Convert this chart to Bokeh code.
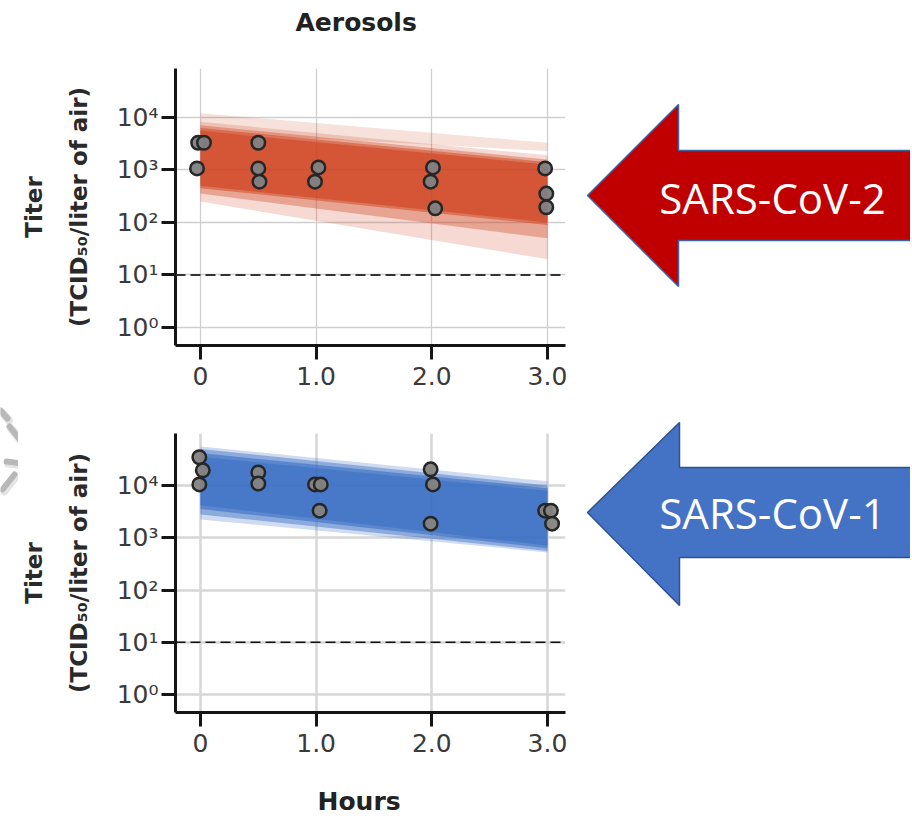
from bokeh.plotting import figure
from bokeh.models import Range1d, FixedTicker, Span, Title
from bokeh.layouts import row, column
from bokeh.embed import file_html
from bokeh.resources import INLINE
from bokeh.core.properties import value

# ---------------- data ----------------
hours_ticks = [0, 1, 2, 3]
hours_tick_labels = ["0", "1.0", "2.0", "3.0"]
titer_ticks = [1, 10, 100, 1000, 10000]
titer_tick_labels = ["10⁰", "10¹", "10²", "10³", "10⁴"]
detection_limit = 10

# SARS-CoV-2 measured titers (TCID50 / liter of air)
cov2_hours = [-0.02, 0.03, -0.03, 0.50, 0.50, 0.51, 1.02, 0.99, 2.01, 1.99, 2.03, 2.98, 2.99, 2.99]
cov2_titer = [3300, 3300, 1070, 3300, 1070, 600, 1120, 600, 1120, 600, 186, 1070, 355, 195]

# SARS-CoV-1 measured titers
cov1_hours = [-0.01, 0.02, -0.01, 0.50, 0.50, 0.99, 1.04, 1.03, 1.99, 2.01, 1.99, 2.98, 3.03, 3.04]
cov1_titer = [34700, 19500, 10500, 17800, 10900, 10500, 10500, 3300, 20400, 10500, 1860, 3300, 3300, 1860]

# fitted decay bands (value at 0 h and at 3 h)
band_hours = [0, 3]
cov2_upper_0 = [12000, 8300, 7100, 6300, 5600]
cov2_upper_3 = [3300, 1900, 1580, 1410, 1260]
cov2_lower_0 = [5200, 250, 355, 450, 500]
cov2_lower_3 = [2300, 20, 50, 90, 100]
cov2_alpha = [0.16, 0.2, 0.35, 0.5, 0.6]

cov1_upper_0 = [56000, 50000, 41700, 35500]
cov1_upper_3 = [12000, 10000, 8900, 7900]
cov1_lower_0 = [2240, 2800, 3550, 4200]
cov1_lower_3 = [525, 560, 630, 710]
cov1_alpha = [0.25, 0.45, 0.6, 0.6]

# decorative arrows (page pixel coordinates)
red_arrow_x = [587, 678, 678, 920, 920, 678, 678]
red_arrow_y = [195, 104, 150, 150, 240, 240, 286]
blue_arrow_x = [587, 679, 679, 920, 920, 679, 679]
blue_arrow_y = [512, 422, 467, 467, 557, 557, 605]
arrow_labels = ["SARS-CoV-2", "SARS-CoV-1"]
arrow_label_x = [772, 772]
arrow_label_y = [197, 512]

# decorative rays at far left (page pixel coordinates)
ray_x0 = [9, 6, 14, 0]
ray_y0 = [426, 461, 474, 410]
ray_x1 = [21, 22, 2, 7]
ray_y1 = [441, 463, 489, 418]

TICK_FONT = "DejaVu Sans"
LABEL_FONT = "DejaVu Sans"


def make_panel(height, y_lo, y_hi, border_top, border_bottom, grid_w, grid_col,
               dash_col, dash_w):
    p = figure(width=562, height=height,
               x_range=Range1d(-0.216, 3.156), y_range=Range1d(y_lo, y_hi),
               y_axis_type="log", output_backend="svg", toolbar_location=None,
               min_border_left=157, min_border_right=15,
               min_border_top=border_top, min_border_bottom=border_bottom)
    p.outline_line_color = None
    p.background_fill_color = "white"
    p.border_fill_color = "white"

    p.xaxis.ticker = FixedTicker(ticks=hours_ticks)
    p.xaxis.major_label_overrides = dict(zip(hours_ticks, hours_tick_labels))
    p.yaxis.ticker = FixedTicker(ticks=titer_ticks)
    p.yaxis.major_label_overrides = dict(zip(titer_ticks, titer_tick_labels))

    for ax in (p.xaxis, p.yaxis):
        ax.axis_line_width = 3
        ax.axis_line_color = "#151515"
        ax.major_tick_line_width = 3
        ax.major_tick_line_color = "#151515"
        ax.major_tick_out = 14
        ax.major_tick_in = 0
        ax.minor_tick_line_color = None
        ax.major_label_text_font = TICK_FONT
        ax.major_label_text_font_size = "25px"
        ax.major_label_text_color = "#3a3a3a"
    p.xaxis.major_label_standoff = 7
    p.yaxis.major_label_standoff = 3

    p.yaxis.axis_label = "Titer\n(TCID₅₀/liter of air)"
    p.yaxis.axis_label_text_font = LABEL_FONT
    p.yaxis.axis_label_text_font_style = "bold"
    p.yaxis.axis_label_text_font_size = "23px"
    p.yaxis.axis_label_text_color = "#2a2a2a"
    p.yaxis.axis_label_text_line_height = 1.7
    p.yaxis.axis_label_standoff = 22

    p.xgrid.grid_line_color = grid_col
    p.ygrid.grid_line_color = grid_col
    p.xgrid.grid_line_width = grid_w
    p.ygrid.grid_line_width = grid_w

    p.add_layout(Span(location=detection_limit, dimension="width",
                      line_color=dash_col, line_dash="10 5", line_width=dash_w))
    return p


# ---------------- top: SARS-CoV-2 ----------------
top = make_panel(400, 10 ** -0.343, 10 ** 4.933, 68, 55, 1.3, "#cfcfcf", "#333333", 2)
for u0, u3, l0, l3, a in zip(cov2_upper_0, cov2_upper_3, cov2_lower_0, cov2_lower_3, cov2_alpha):
    top.varea(x=band_hours, y1=[l0, l3], y2=[u0, u3], fill_color="#cf4320", fill_alpha=a)
top.scatter(cov2_hours, cov2_titer, size=13.5, fill_color="#7f8183", fill_alpha=0.95,
            line_color="#262626", line_width=2.5)
top.title.text = "Aerosols\n"
top.title.align = "left"
top.title.offset = 120
top.title.text_font = LABEL_FONT
top.title.text_font_size = "25px"
top.title.text_font_style = "bold"
top.title.text_color = "#222222"
top.title.standoff = 6

# ---------------- bottom: SARS-CoV-1 ----------------
bottom = make_panel(418, 10 ** -0.344, 10 ** 4.995, 33, 106, 2.5, "#d6d6d6", "#111111", 1.6)
for u0, u3, l0, l3, a in zip(cov1_upper_0, cov1_upper_3, cov1_lower_0, cov1_lower_3, cov1_alpha):
    bottom.varea(x=band_hours, y1=[l0, l3], y2=[u0, u3], fill_color="#3b6fc4", fill_alpha=a)
bottom.scatter(cov1_hours, cov1_titer, size=13.5, fill_color="#85837f", fill_alpha=0.95,
               line_color="#262626", line_width=2.5)
hours_title = Title(text="\nHours", align="left", offset=142, text_font=LABEL_FONT,
                    text_font_size="25px", text_font_style="bold", text_color="#222222",
                    text_line_height=1.08, standoff=0)
bottom.add_layout(hours_title, "below")

# ---------------- left strip: decorative rays ----------------
strip = figure(width=18, height=818, x_range=Range1d(0, 18), y_range=Range1d(818, 0),
               x_axis_type=None, y_axis_type=None, output_backend="svg",
               toolbar_location=None, min_border=0)
strip.outline_line_color = None
strip.grid.visible = False
strip.segment(x0=[x + 1.5 for x in ray_x0], y0=[y + 2 for y in ray_y0],
              x1=[x + 1.5 for x in ray_x1], y1=[y + 2 for y in ray_y1],
              line_color="#e4e4e4", line_width=8, line_cap="round")
strip.segment(x0=ray_x0, y0=ray_y0, x1=ray_x1, y1=ray_y1,
              line_color="#b8b8b8", line_width=6, line_cap="round")

# ---------------- right: arrows ----------------
arrows = figure(width=330, height=818, x_range=Range1d(580, 910), y_range=Range1d(818, 0),
                x_axis_type=None, y_axis_type=None, output_backend="svg",
                toolbar_location=None, min_border=0)
arrows.outline_line_color = None
arrows.grid.visible = False
arrows.patch(red_arrow_x, red_arrow_y, fill_color="#c00000", line_color="#3c64a0", line_width=1.5)
arrows.patch(blue_arrow_x, blue_arrow_y, fill_color="#4472c4", line_color="#2f528f", line_width=1.5)
arrows.text(x=arrow_label_x, y=arrow_label_y, text=arrow_labels, text_color="white",
            text_font=value("Open Sans"), text_font_size="42px",
            text_align="center", text_baseline="middle")

layout = row(strip, column(top, bottom), arrows)

open("out.html", "w").write(file_html(layout, INLINE))
